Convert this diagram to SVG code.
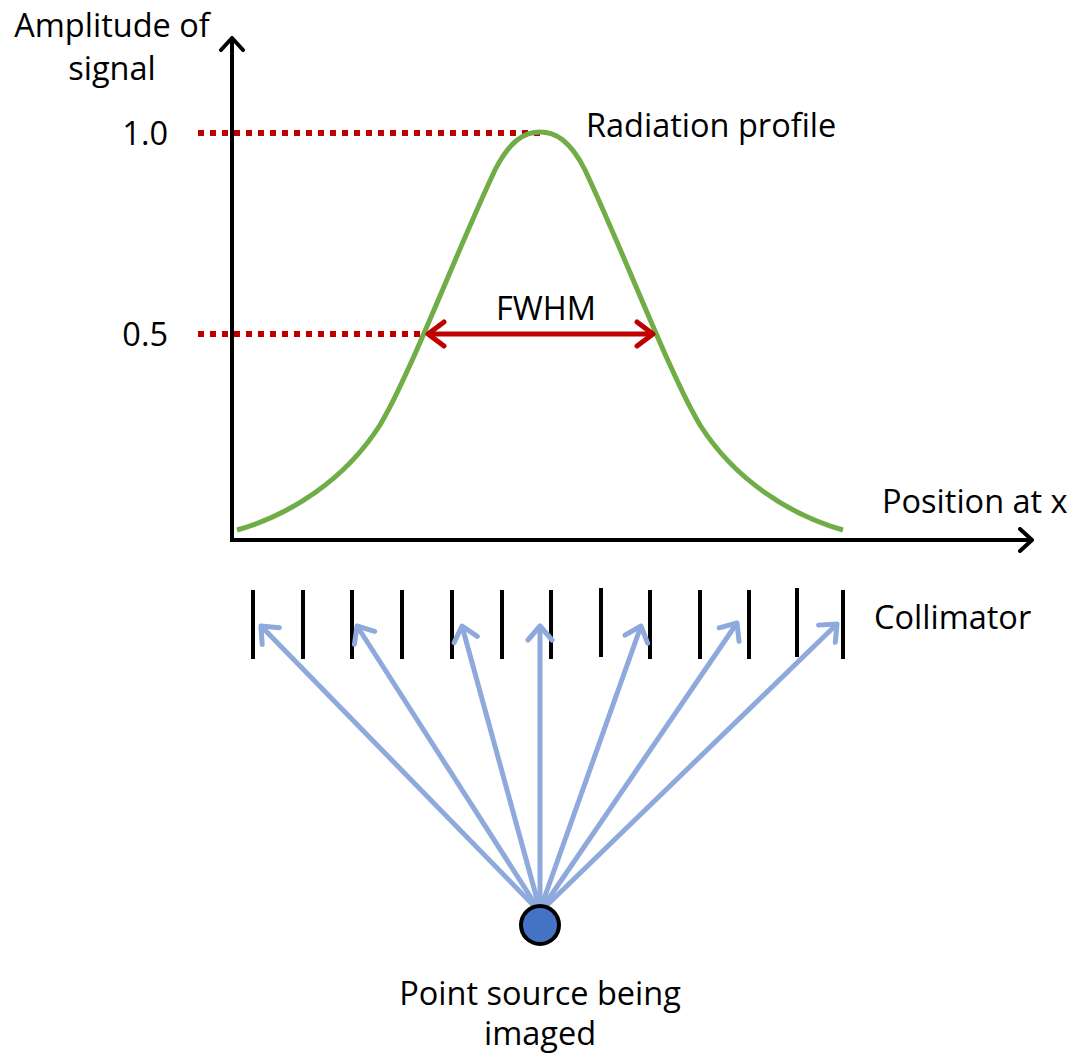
<svg xmlns="http://www.w3.org/2000/svg" width="1074" height="1057" viewBox="0 0 1074 1057">
<style>
text{font-family:"Open Sans","Noto Sans","DejaVu Sans",sans-serif;font-size:32.5px;fill:#000}
.axis{stroke:#000;stroke-width:4;fill:none}
.dot{stroke:#C00000;stroke-width:6;stroke-dasharray:6 6;fill:none}
.ray{stroke:#8EA9DB;stroke-width:5;fill:none}
.bar{stroke:#000;stroke-width:4}
</style>
<defs>
<marker id="mk" markerUnits="userSpaceOnUse" viewBox="0 0 16 26" refX="14" refY="13" markerWidth="16" markerHeight="26" orient="auto">
<path d="M2,2 L14,13 L2,24" fill="none" stroke="#000" stroke-width="4" stroke-linecap="round" stroke-linejoin="round"/>
</marker>
<marker id="mr" markerUnits="userSpaceOnUse" viewBox="0 0 22 30" refX="19" refY="15" markerWidth="22" markerHeight="30" orient="auto-start-reverse">
<path d="M3,3 L19,15 L3,27" fill="none" stroke="#C00000" stroke-width="5" stroke-linecap="round" stroke-linejoin="round"/>
</marker>
<marker id="mb" markerUnits="userSpaceOnUse" viewBox="0 0 20 30" refX="17" refY="15" markerWidth="20" markerHeight="30" orient="auto">
<path d="M3,3 L17,15 L3,27" fill="none" stroke="#8EA9DB" stroke-width="5" stroke-linecap="round" stroke-linejoin="round"/>
</marker>
</defs>
<rect width="1074" height="1057" fill="#fff"/>

<g id="guides">
<line class="dot" x1="198" y1="133" x2="540" y2="133"/>
<line class="dot" x1="198" y1="334" x2="425" y2="334"/>
</g>

<g id="axes">
<path class="axis" d="M232,540 L232,38" marker-end="url(#mk)"/>
<path class="axis" d="M230,540 L1032,540" marker-end="url(#mk)"/>
</g>

<g id="profile">
<path d="M237,530 C290,515 345,480 380,425 C410,375 455,255 495,170 C510,140 525,132 540,132 C555,132 570,140 585,170 C625,255 670,375 700,425 C735,480 790,515 843,530" fill="none" stroke="#70AD47" stroke-width="5"/>
</g>

<g id="fwhm">
<path d="M428,334 L653,334" fill="none" stroke="#C00000" stroke-width="5" marker-start="url(#mr)" marker-end="url(#mr)"/>
<text x="546" y="320" text-anchor="middle">FWHM</text>
</g>

<g id="collimator">
<line class="bar" x1="253" y1="590" x2="253" y2="659"/>
<line class="bar" x1="303" y1="590" x2="303" y2="659"/>
<line class="bar" x1="352" y1="590" x2="352" y2="659"/>
<line class="bar" x1="402" y1="590" x2="402" y2="659"/>
<line class="bar" x1="452" y1="590" x2="452" y2="659"/>
<line class="bar" x1="502" y1="590" x2="502" y2="659"/>
<line class="bar" x1="551" y1="590" x2="551" y2="659"/>
<line class="bar" x1="601" y1="588" x2="601" y2="657"/>
<line class="bar" x1="650" y1="590" x2="650" y2="659"/>
<line class="bar" x1="700" y1="590" x2="700" y2="659"/>
<line class="bar" x1="749" y1="590" x2="749" y2="659"/>
<line class="bar" x1="797" y1="588" x2="797" y2="657"/>
<line class="bar" x1="843" y1="590" x2="843" y2="659"/>
</g>

<g id="rays">
<line class="ray" x1="538" y1="910" x2="261" y2="626" marker-end="url(#mb)"/>
<line class="ray" x1="539" y1="910" x2="357" y2="626" marker-end="url(#mb)"/>
<line class="ray" x1="540" y1="910" x2="462" y2="626" marker-end="url(#mb)"/>
<line class="ray" x1="540" y1="910" x2="540" y2="626" marker-end="url(#mb)"/>
<line class="ray" x1="540" y1="910" x2="641" y2="626" marker-end="url(#mb)"/>
<line class="ray" x1="541" y1="910" x2="737" y2="623" marker-end="url(#mb)"/>
<line class="ray" x1="542" y1="910" x2="837" y2="624" marker-end="url(#mb)"/>
</g>

<g id="source">
<circle cx="540" cy="925" r="19" fill="#4472C4" stroke="#000" stroke-width="4"/>
</g>

<g id="labels">
<text x="112" y="37" text-anchor="middle">Amplitude of</text>
<text x="112" y="80" text-anchor="middle">signal</text>
<text x="168" y="145" text-anchor="end">1.0</text>
<text x="168" y="346" text-anchor="end">0.5</text>
<text x="586" y="137">Radiation profile</text>
<text x="882" y="513">Position at x</text>
<text x="874" y="629">Collimator</text>
<text x="540" y="1005" text-anchor="middle">Point source being</text>
<text x="540" y="1045" text-anchor="middle">imaged</text>
</g>
</svg>
